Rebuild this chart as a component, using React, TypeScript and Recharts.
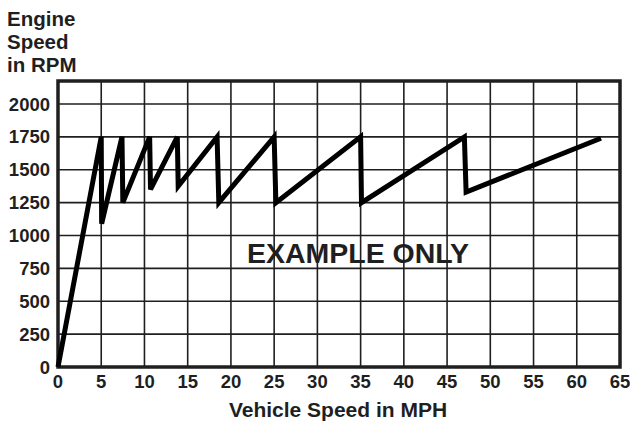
import { LineChart, Line, XAxis, YAxis, CartesianGrid, ReferenceArea, Customized } from "recharts";

const speedMph = [0, 5, 5.05, 7.4, 7.5, 10.6, 10.7, 13.8, 13.9, 18.4, 18.6, 25, 25.2, 35, 35.1, 47, 47.2, 62.8];
const engineRpm = [0, 1750, 1090, 1750, 1250, 1750, 1350, 1750, 1375, 1750, 1250, 1750, 1250, 1750, 1250, 1750, 1330, 1740];
const xTicks = [0, 5, 10, 15, 20, 25, 30, 35, 40, 45, 50, 55, 60, 65];
const yTicks = [0, 250, 500, 750, 1000, 1250, 1500, 1750, 2000];
const yTitle = ["Engine", "Speed", "in RPM"];

const data = speedMph.map((x, i) => ({ x, rpm: engineRpm[i] }));

const ink = "#1f1f1f";
const font = "'Liberation Sans', Arial, Helvetica, sans-serif";
const tick = { fontSize: 18.5, fontWeight: 700, fill: ink, fontFamily: font };

function Titles() {
  return (
    <g fontFamily={font} fontWeight={700} fill={ink}>
      {yTitle.map((t, i) => (
        <text key={t} x={7} y={26 + i * 23} fontSize={20.5}>
          {t}
        </text>
      ))}
      <text x={338} y={416.5} fontSize={21} textAnchor="middle">
        Vehicle Speed in MPH
      </text>
      <text x={358} y={263} fontSize={28.5} textAnchor="middle">
        EXAMPLE ONLY
      </text>
    </g>
  );
}

export default function App() {
  return (
    <div style={{ position: "absolute", left: 0, top: 0 }}>
      <LineChart width={630} height={422} data={data} margin={{ top: 81, right: 10, bottom: 0, left: 0 }}>
        <CartesianGrid stroke={ink} strokeWidth={1.6} horizontalValues={yTicks} verticalValues={xTicks} />
        <XAxis
          dataKey="x"
          type="number"
          domain={[0, 65]}
          ticks={xTicks}
          interval={0}
          tick={tick}
          tickLine={false}
          axisLine={false}
          tickSize={0}
          tickMargin={8}
          height={55}
        />
        <YAxis
          type="number"
          domain={[0, 2175]}
          ticks={yTicks}
          interval={0}
          tick={tick}
          tickLine={false}
          axisLine={false}
          tickSize={0}
          tickMargin={8}
          width={58}
        />
        <ReferenceArea x1={0} x2={65} y1={0} y2={2175} fill="none" stroke={ink} strokeWidth={3.5} ifOverflow="visible" />
        <Line
          dataKey="rpm"
          type="linear"
          stroke="#000"
          strokeWidth={5}
          dot={false}
          isAnimationActive={false}
        />
        <Customized component={Titles} />
      </LineChart>
    </div>
  );
}
